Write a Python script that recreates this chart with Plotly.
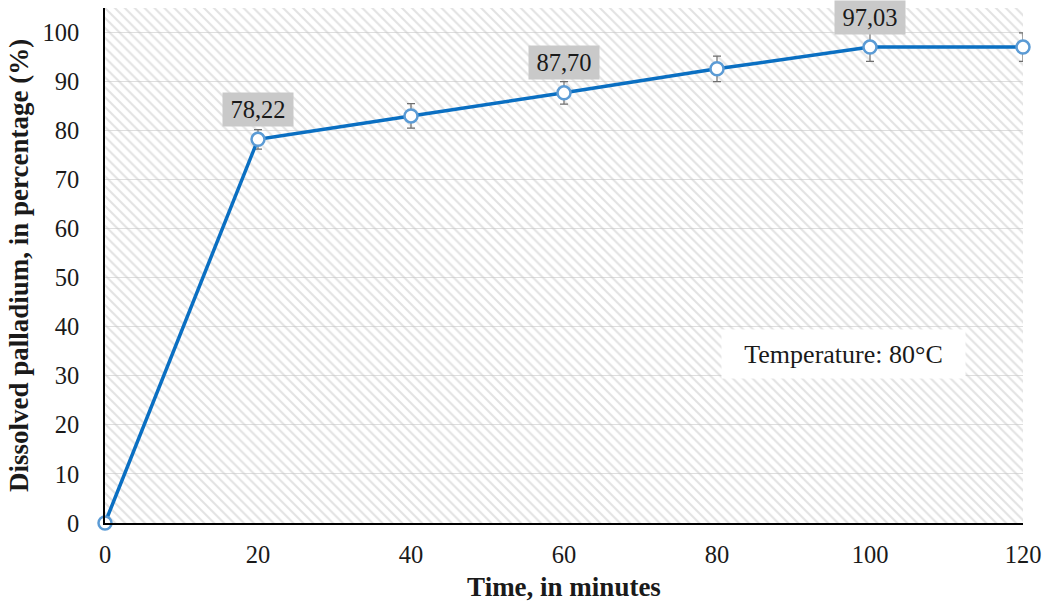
import plotly.graph_objects as go

# Data
time_min = [0, 20, 40, 60, 80, 100, 120]
dissolved = [0, 78.22, 83.0, 87.70, 92.6, 97.03, 97.03]
errors = [0, 2.0, 2.5, 2.3, 2.6, 2.9, 2.9]
label_idx = [1, 3, 5]
label_text = ["78,22", "87,70", "97,03"]
x_ticks = [0, 20, 40, 60, 80, 100, 120]
y_ticks = [0, 10, 20, 30, 40, 50, 60, 70, 80, 90, 100]

X_MAX = 120
Y_MAX = 105
FONT = "Liberation Serif, Times New Roman, serif"

fig = go.Figure()

# Hatched plot-area background
fig.add_trace(go.Bar(
    x=[X_MAX / 2], y=[Y_MAX], width=[X_MAX],
    marker=dict(color="rgba(0,0,0,0)", line=dict(width=0),
                pattern=dict(shape="\\", fgcolor="#c6c6c6", size=7, solidity=0.3)),
    hoverinfo="skip", showlegend=False,
))

fig.add_trace(go.Scatter(
    x=time_min, y=dissolved, mode="lines+markers",
    line=dict(color="#0a6fc2", width=3.5),
    marker=dict(symbol="circle", size=13, color="white",
                line=dict(color="#5b9bd5", width=2.5)),
    error_y=dict(type="data", array=errors, visible=True,
                 color="#6e6e6e", thickness=1.2, width=4),
    cliponaxis=False, showlegend=False,
))

for i, t in zip(label_idx, label_text):
    fig.add_annotation(
        x=time_min[i], y=dissolved[i], text=t, showarrow=False,
        yshift=30, bgcolor="#c9c9c9", borderpad=4, width=62, height=25,
        font=dict(family=FONT, size=24.5, color="#1a1a1a"),
    )

fig.add_annotation(
    x=96.54, y=34.5, text="Temperature: 80°C", showarrow=False,
    bgcolor="white", borderpad=4, width=235, height=40,
    font=dict(family=FONT, size=26, color="#1a1a1a"),
    xref="x", yref="y",
)

fig.update_layout(
    width=1045, height=608,
    margin=dict(l=105, r=22, t=8, b=85),
    paper_bgcolor="white", plot_bgcolor="white",
    font=dict(family=FONT, size=24.5, color="#1a1a1a"),
    showlegend=False,
    bargap=0,
)
fig.update_xaxes(
    range=[0, X_MAX], tickvals=x_ticks, showgrid=False, zeroline=False,
    showline=True, linecolor="black", linewidth=1.5, ticks="",
    tickfont=dict(family=FONT, size=24.5), ticklabelstandoff=9,
    automargin=False,
    title=dict(text="<b>Time, in minutes</b>", font=dict(family=FONT, size=27), standoff=10),
)
fig.update_yaxes(
    range=[0, Y_MAX], tickvals=y_ticks, showgrid=True, gridcolor="#dedede", gridwidth=1,
    zeroline=False, showline=True, linecolor="black", linewidth=1.5, ticks="",
    tickfont=dict(family=FONT, size=24.5), ticklabelstandoff=19,
    automargin=False,
    title=dict(text="<b>Dissolved palladium, in percentage (%)</b>", font=dict(family=FONT, size=27), standoff=6),
)

fig.write_html("out.html", config={"displayModeBar": False},
               post_script="document.body.style.margin='0';")
